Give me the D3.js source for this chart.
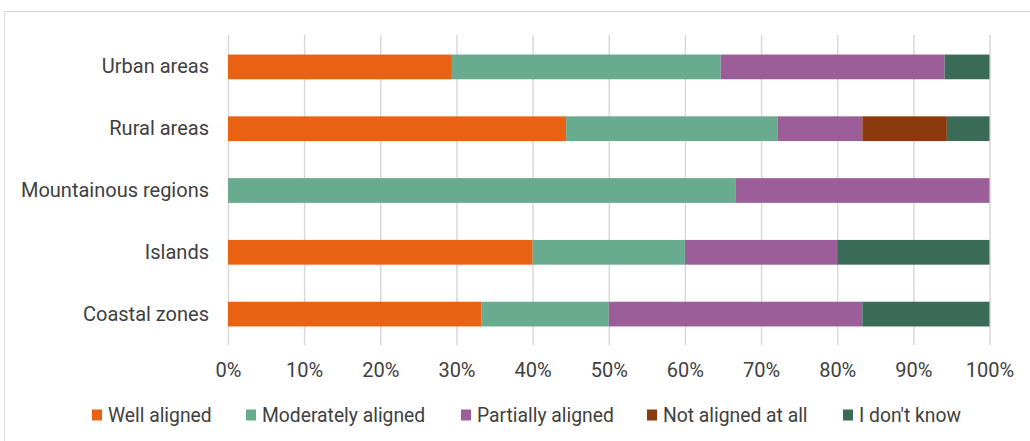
<!DOCTYPE html>
<html><head><meta charset="utf-8">
<script src="https://cdn.jsdelivr.net/npm/d3@7"></script>
<style>body{margin:0;background:#fff}svg{display:block}</style>
</head><body>
<script>
const categories = ["Urban areas","Rural areas","Mountainous regions","Islands","Coastal zones"];
const seriesNames = ["Well aligned","Moderately aligned","Partially aligned","Not aligned at all","I don't know"];
const wellAligned       = [29.4, 44.4, 0,    40, 33.3];
const moderatelyAligned = [35.3, 27.8, 66.7, 20, 16.7];
const partiallyAligned  = [29.4, 11.1, 33.3, 20, 33.3];
const notAlignedAtAll   = [0,    11.1, 0,    0,  0];
const dontKnow          = [5.9,  5.6,  0,    20, 16.7];
const tickValues = [0,10,20,30,40,50,60,70,80,90,100];
const colors = ["#E96214","#69AB8F","#9C5E99","#8A3A0C","#3A6B57"];

const W = 1030, H = 441;
const svg = d3.select("body").append("svg").attr("width", W).attr("height", H);
const font = "Roboto, 'Noto Sans', sans-serif";

svg.append("rect").attr("x",4.5).attr("y",11.5).attr("width",W).attr("height",H)
  .attr("fill","#fff").attr("stroke","#d9d9d9").attr("stroke-width",1);

const x = d3.scaleLinear().domain([0,100]).range([228,989.5]);
const y = d3.scaleBand().domain(categories).range([36,345]).paddingInner(0.6).paddingOuter(0.3);

const allSeries = [wellAligned, moderatelyAligned, partiallyAligned, notAlignedAtAll, dontKnow];
const rows = categories.map((c,i)=>{ const o={cat:c}; seriesNames.forEach((s,j)=>o[s]=allSeries[j][i]); return o;});
const stacked = d3.stack().keys(seriesNames)(rows);

// gridlines
svg.append("g").selectAll("line").data(tickValues).join("line")
  .attr("x1",d=>x(d)+0.5).attr("x2",d=>x(d)+0.5).attr("y1",35).attr("y2",345)
  .attr("stroke","#d9d9d9").attr("stroke-width",1.5);

// bars
svg.append("g").selectAll("g").data(stacked).join("g")
  .attr("fill",(d,i)=>colors[i])
  .selectAll("rect").data(d=>d).join("rect")
  .attr("x",d=>x(d[0])).attr("width",d=>x(d[1])-x(d[0]))
  .attr("y",d=>y(d.data.cat)).attr("height",y.bandwidth());

// x axis labels
const xAxis = d3.axisBottom(x).tickValues(tickValues).tickFormat(d=>d+"%").tickSize(0).tickPadding(0);
const gx = svg.append("g").attr("transform","translate(0,369.5)").call(xAxis);
gx.select(".domain").remove();
gx.selectAll("text").attr("font-family",font).attr("font-size",20).attr("fill","#404040").attr("y",0).attr("dy","0.35em");

// y axis labels
const yAxis = d3.axisLeft(y).tickSize(0).tickPadding(0);
const gy = svg.append("g").attr("transform","translate(209,0)").call(yAxis);
gy.select(".domain").remove();
gy.selectAll("text").attr("font-family",font).attr("font-size",20).attr("fill","#404040");

// legend
const legendX = [92, 246, 461, 647, 843];
const lg = svg.append("g").selectAll("g").data(seriesNames).join("g")
  .attr("transform",(d,i)=>`translate(${legendX[i]},415)`);
lg.append("rect").attr("x",0).attr("y",-5.5).attr("width",10).attr("height",11).attr("fill",(d,i)=>colors[i]);
lg.append("text").attr("x",16).attr("dy","0.35em").text(d=>d)
  .attr("font-family",font).attr("font-size",19.3).attr("fill","#404040");
</script>
</body></html>
